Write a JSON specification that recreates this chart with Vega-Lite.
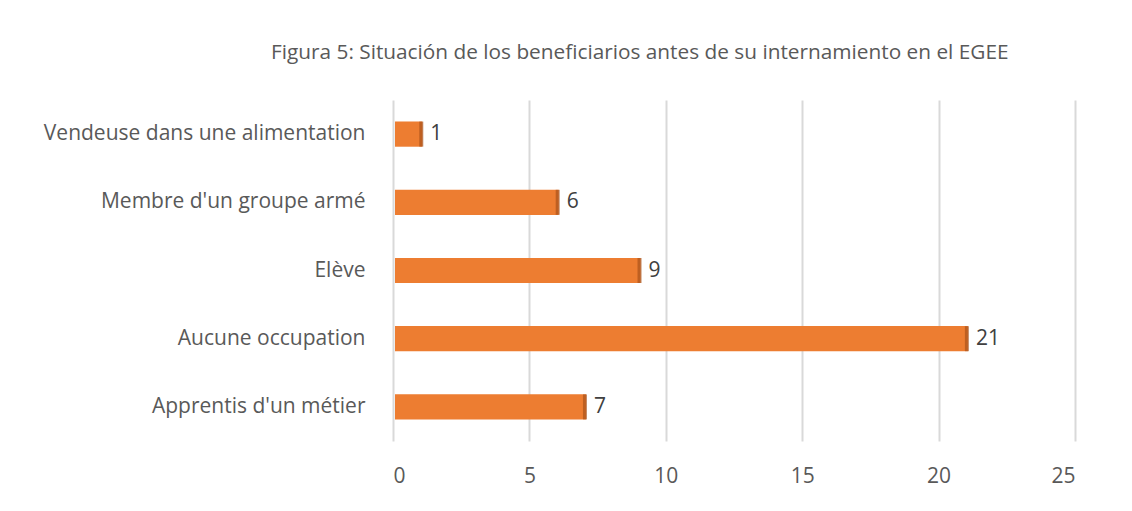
{
  "$schema": "https://vega.github.io/schema/vega-lite/v6.json",
  "width": 682,
  "height": 341,
  "autosize": {"type": "none"},
  "padding": {"left": 393, "top": 100, "right": 57, "bottom": 70},
  "background": "white",
  "title": {
    "text": "Figura 5: Situación de los beneficiarios antes de su internamiento en el EGEE",
    "anchor": "start",
    "frame": "group",
    "dx": -122,
    "offset": 36,
    "font": "Open Sans",
    "fontSize": 20.8,
    "fontWeight": "normal",
    "color": "#595959"
  },
  "data": {
    "values": [
      {"situation": "Vendeuse dans une alimentation", "count": 1},
      {"situation": "Membre d'un groupe armé", "count": 6},
      {"situation": "Elève", "count": 9},
      {"situation": "Aucune occupation", "count": 21},
      {"situation": "Apprentis d'un métier", "count": 7}
    ]
  },
  "encoding": {
    "y": {
      "field": "situation",
      "type": "nominal",
      "sort": null,
      "scale": {"paddingInner": 0.63, "paddingOuter": 0.315},
      "axis": {
        "title": null,
        "domain": false,
        "ticks": false,
        "labelPadding": 28,
        "labelFont": "Open Sans",
        "labelFontSize": 21,
        "labelColor": "#595959",
        "labelLimit": 400
      }
    },
    "x": {
      "field": "count",
      "type": "quantitative",
      "scale": {"domain": [0, 25], "nice": false},
      "axis": {
        "title": null,
        "values": [0, 5, 10, 15, 20, 25],
        "domain": false,
        "ticks": false,
        "grid": true,
        "gridColor": "#d9d9d9",
        "gridWidth": 2,
        "labelPadding": 24,
        "labelFont": "Open Sans",
        "labelFontSize": 21,
        "labelColor": "#595959"
      }
    }
  },
  "layer": [
    {"mark": {"type": "bar", "color": "#ED7D31", "xOffset": 2}},
    {
      "mark": {"type": "tick", "orient": "vertical", "color": "#A9521B", "thickness": 4, "xOffset": 1, "size": 25},
      "encoding": {}
    },
    {
      "mark": {"type": "text", "align": "left", "dx": 10, "font": "Open Sans", "fontSize": 21, "color": "#404040"},
      "encoding": {"text": {"field": "count", "type": "quantitative"}}
    }
  ],
  "config": {"view": {"stroke": null}}
}
